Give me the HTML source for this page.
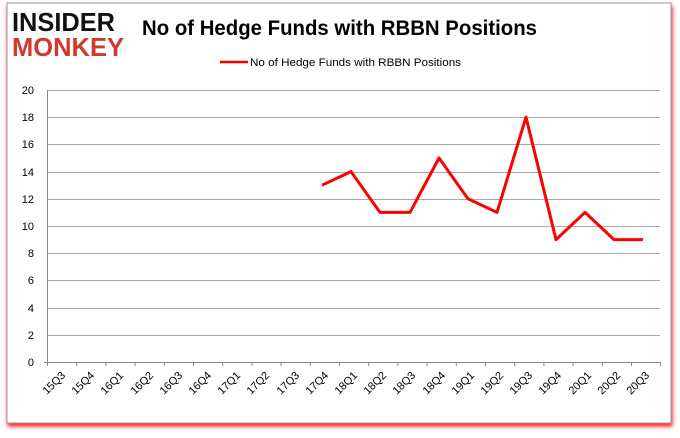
<!DOCTYPE html>
<html><head><meta charset="utf-8"><style>
body{margin:0;background:#fff;width:680px;height:433px;overflow:hidden;font-family:"Liberation Sans",sans-serif}
</style></head><body>
<svg width="680" height="433" viewBox="0 0 680 433" xmlns="http://www.w3.org/2000/svg" font-family="Liberation Sans, sans-serif">
<defs><filter id="sh" x="-5%" y="-5%" width="110%" height="115%"><feDropShadow dx="1" dy="3" stdDeviation="2" flood-color="#ff0000" flood-opacity="0.9"/></filter></defs>
<rect x="7" y="3" width="664" height="420" fill="#fff" stroke="#999" stroke-width="1" filter="url(#sh)"/>
<text x="12" y="31" font-size="26" font-weight="bold" fill="#111" textLength="103" lengthAdjust="spacingAndGlyphs">INSIDER</text>
<text x="12" y="56" font-size="26" font-weight="bold" fill="#d0392b" textLength="112" lengthAdjust="spacingAndGlyphs">MONKEY</text>
<text x="339.5" y="35" font-size="21" font-weight="bold" text-anchor="middle" fill="#000" textLength="395" lengthAdjust="spacingAndGlyphs">No of Hedge Funds with RBBN Positions</text>
<line x1="220" y1="62" x2="248" y2="62" stroke="#e00" stroke-width="2.5"/>
<text x="250" y="66" font-size="11" fill="#000" textLength="211" lengthAdjust="spacingAndGlyphs">No of Hedge Funds with RBBN Positions</text>
<g stroke="#aaa" stroke-width="1">
<line x1="47" y1="90.5" x2="660" y2="90.5"/><line x1="47" y1="117.5" x2="660" y2="117.5"/><line x1="47" y1="144.5" x2="660" y2="144.5"/><line x1="47" y1="172.5" x2="660" y2="172.5"/><line x1="47" y1="199.5" x2="660" y2="199.5"/><line x1="47" y1="226.5" x2="660" y2="226.5"/><line x1="47" y1="253.5" x2="660" y2="253.5"/><line x1="47" y1="280.5" x2="660" y2="280.5"/><line x1="47" y1="308.5" x2="660" y2="308.5"/><line x1="47" y1="335.5" x2="660" y2="335.5"/>
</g>
<line x1="47.5" y1="90" x2="47.5" y2="363" stroke="#888"/>
<line x1="44" y1="362.5" x2="660" y2="362.5" stroke="#888"/>
<g font-size="11" fill="#000" text-anchor="end">
<text x="34" y="94">20</text><text x="34" y="121">18</text><text x="34" y="148">16</text><text x="34" y="176">14</text><text x="34" y="203">12</text><text x="34" y="230">10</text><text x="34" y="257">8</text><text x="34" y="284">6</text><text x="34" y="312">4</text><text x="34" y="339">2</text><text x="34" y="366">0</text>
</g>
<g stroke="#888">
<line x1="47.5" y1="362" x2="47.5" y2="366"/><line x1="76.7" y1="362" x2="76.7" y2="366"/><line x1="105.9" y1="362" x2="105.9" y2="366"/><line x1="135.1" y1="362" x2="135.1" y2="366"/><line x1="164.3" y1="362" x2="164.3" y2="366"/><line x1="193.5" y1="362" x2="193.5" y2="366"/><line x1="222.7" y1="362" x2="222.7" y2="366"/><line x1="251.9" y1="362" x2="251.9" y2="366"/><line x1="281.1" y1="362" x2="281.1" y2="366"/><line x1="310.3" y1="362" x2="310.3" y2="366"/><line x1="339.5" y1="362" x2="339.5" y2="366"/><line x1="368.7" y1="362" x2="368.7" y2="366"/><line x1="397.9" y1="362" x2="397.9" y2="366"/><line x1="427.1" y1="362" x2="427.1" y2="366"/><line x1="456.3" y1="362" x2="456.3" y2="366"/><line x1="485.5" y1="362" x2="485.5" y2="366"/><line x1="514.7" y1="362" x2="514.7" y2="366"/><line x1="543.9" y1="362" x2="543.9" y2="366"/><line x1="573.1" y1="362" x2="573.1" y2="366"/><line x1="602.3" y1="362" x2="602.3" y2="366"/><line x1="631.5" y1="362" x2="631.5" y2="366"/><line x1="660.5" y1="362" x2="660.5" y2="366"/>
</g>
<g font-size="11" fill="#000" text-anchor="end">
<text transform="translate(66,376) rotate(-45)">15Q3</text><text transform="translate(95,376) rotate(-45)">15Q4</text><text transform="translate(124,376) rotate(-45)">16Q1</text><text transform="translate(154,376) rotate(-45)">16Q2</text><text transform="translate(183,376) rotate(-45)">16Q3</text><text transform="translate(212,376) rotate(-45)">16Q4</text><text transform="translate(241,376) rotate(-45)">17Q1</text><text transform="translate(270,376) rotate(-45)">17Q2</text><text transform="translate(300,376) rotate(-45)">17Q3</text><text transform="translate(329,376) rotate(-45)">17Q4</text><text transform="translate(358,376) rotate(-45)">18Q1</text><text transform="translate(387,376) rotate(-45)">18Q2</text><text transform="translate(416,376) rotate(-45)">18Q3</text><text transform="translate(446,376) rotate(-45)">18Q4</text><text transform="translate(475,376) rotate(-45)">19Q1</text><text transform="translate(504,376) rotate(-45)">19Q2</text><text transform="translate(533,376) rotate(-45)">19Q3</text><text transform="translate(562,376) rotate(-45)">19Q4</text><text transform="translate(592,376) rotate(-45)">20Q1</text><text transform="translate(621,376) rotate(-45)">20Q2</text><text transform="translate(650,376) rotate(-45)">20Q3</text>
</g>
<polyline fill="none" stroke="#f00" stroke-width="3" stroke-linejoin="round" points="322,185.2 351,171.6 380,212.4 410,212.4 439,158 468,198.8 497,212.4 526,117.2 556,239.6 585,212.4 614,239.6 643,239.6"/>
</svg>
</body></html>
